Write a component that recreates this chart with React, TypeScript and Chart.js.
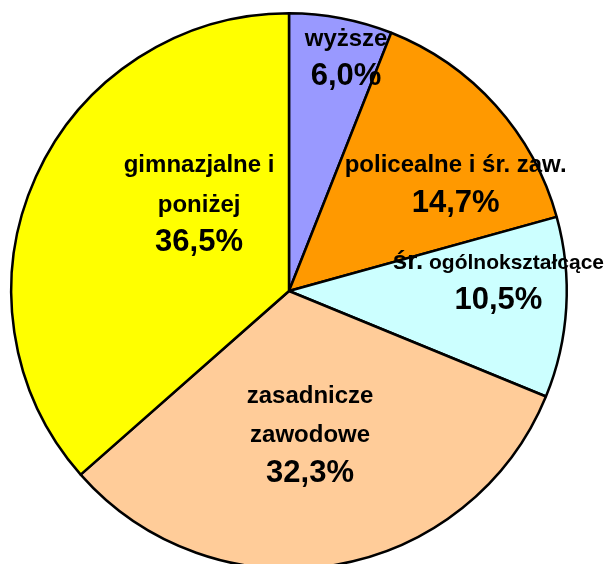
import React, { useEffect, useRef } from "react";
import { Chart, registerables } from "chart.js";

Chart.register(...registerables);

const categories = [
  "wyższe",
  "policealne i śr. zaw.",
  "śr. ogólnokształcące",
  "zasadnicze zawodowe",
  "gimnazjalne i poniżej",
];
const shares = [6.0, 14.7, 10.5, 32.3, 36.5];
const colors = ["#9999FF", "#FF9900", "#CCFFFF", "#FFCC99", "#FFFF00"];

// label text lines per slice (each line: list of [text, fontSize] runs)
const labelLines: [string, number][][][] = [
  [[["wyższe", 24]]],
  [[["policealne i śr. zaw.", 24]]],
  [[["śr.", 26], [" ogólnokształcące", 21]]],
  [[["zasadnicze", 24]], [["zawodowe", 24]]],
  [[["gimnazjalne i", 24]], [["poniżej", 24]]],
];
// placement: fraction of radius and angle shift (deg) from slice middle
const labelFrac = [0.838, 0.698, 0.754, 0.549, 0.431];
const labelShift = [3.4, 11.2, -3.9, 1.6, 17.0];

const FONT = '"Liberation Sans", Arial, sans-serif';
const fmt = (v: number) => v.toFixed(1).replace(".", ",") + "%";

const labelPlugin = {
  id: "sliceLabels",
  afterDatasetsDraw(chart: any) {
    const ctx = chart.ctx as CanvasRenderingContext2D;
    const meta = chart.getDatasetMeta(0);
    const gap = 39.5;
    meta.data.forEach((arc: any, i: number) => {
      const p = arc.getProps(["x", "y", "startAngle", "endAngle", "outerRadius"], true);
      const mid = (p.startAngle + p.endAngle) / 2 + (labelShift[i] * Math.PI) / 180;
      const r = p.outerRadius * labelFrac[i];
      const ax = p.x + r * Math.cos(mid);
      const ay = p.y + r * Math.sin(mid);
      const lines: [string, number][][] = [...labelLines[i], [[fmt(shares[i]), 31]]];
      const n = lines.length;
      ctx.save();
      ctx.fillStyle = "#000";
      ctx.textBaseline = "alphabetic";
      ctx.textAlign = "left";
      lines.forEach((runs, li) => {
        const by = ay + (li - (n - 1) / 2) * gap;
        let total = 0;
        const widths = runs.map(([t, s]) => {
          ctx.font = `bold ${s}px ${FONT}`;
          const w = ctx.measureText(t).width;
          total += w;
          return w;
        });
        let x = ax - total / 2;
        runs.forEach(([t, s], ri) => {
          ctx.font = `bold ${s}px ${FONT}`;
          ctx.fillText(t, x, by);
          x += widths[ri];
        });
      });
      ctx.restore();
    });
  },
};

export default function App() {
  const ref = useRef<HTMLCanvasElement>(null);
  useEffect(() => {
    if (!ref.current) return;
    const chart = new Chart(ref.current, {
      type: "pie",
      data: {
        labels: categories,
        datasets: [
          {
            data: shares,
            backgroundColor: colors,
            borderColor: "#000",
            borderWidth: 2.5,
          },
        ],
      },
      options: {
        animation: false,
        responsive: false,
        maintainAspectRatio: false,
        layout: { padding: { left: 10, right: 43, top: 12, bottom: 30 } },
        plugins: {
          legend: { display: false },
          tooltip: { enabled: false },
        },
      },
      plugins: [labelPlugin],
    });
    return () => chart.destroy();
  }, []);
  return (
    <div
      style={{
        position: "fixed",
        left: 0,
        top: 0,
        width: 611,
        height: 564,
        overflow: "hidden",
        background: "#fff",
      }}
    >
      <canvas
        ref={ref}
        width={611}
        height={600}
        style={{ position: "absolute", left: 0, top: 0, width: 611, height: 600 }}
      />
    </div>
  );
}
